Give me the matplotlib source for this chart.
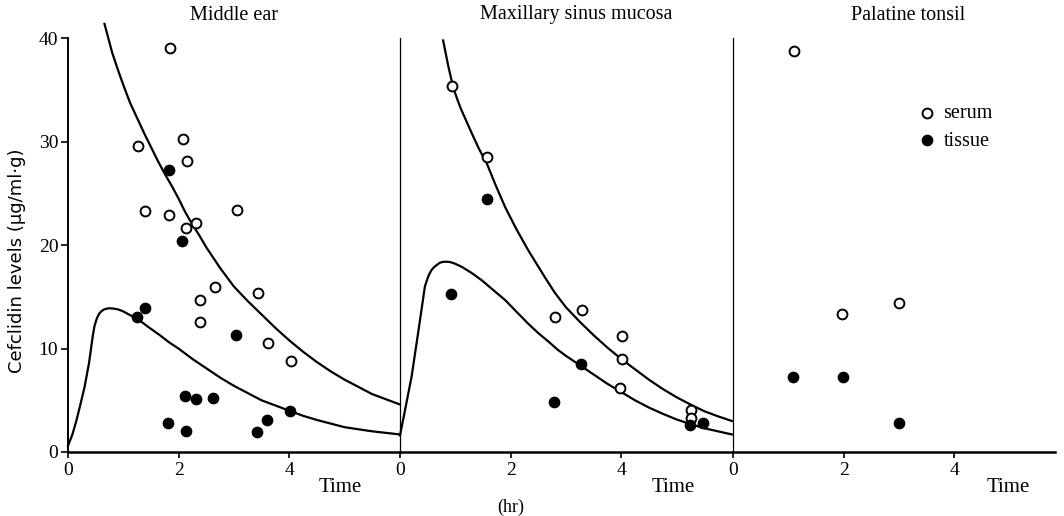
import matplotlib.pyplot as plt

plt.rcParams['font.family'] = ['Liberation Serif', 'DejaVu Serif']

# ---- measured points (time in hr, level in ug/ml.g) ----
me_serum_t = [1.84, 1.27, 2.08, 2.16, 1.40, 1.83, 2.13, 2.32, 3.05, 2.39, 2.65, 2.39, 3.44, 3.62, 4.03]
me_serum_v = [39.1, 29.6, 30.3, 28.1, 23.3, 22.9, 21.7, 22.1, 23.4, 14.7, 16.0, 12.6, 15.4, 10.5, 8.8]
me_tissue_t = [1.83, 2.07, 1.25, 1.40, 3.03, 2.12, 2.32, 2.63, 1.81, 2.14, 3.42, 3.60, 4.02]
me_tissue_v = [27.3, 20.4, 13.1, 13.9, 11.3, 5.4, 5.1, 5.2, 2.8, 2.0, 1.9, 3.1, 4.0]

ms_serum_t = [0.94, 1.58, 2.80, 3.30, 4.02, 4.02, 3.98, 5.26, 5.26]
ms_serum_v = [35.4, 28.5, 13.1, 13.7, 11.2, 9.0, 6.2, 4.1, 3.3]
ms_tissue_t = [1.57, 0.93, 3.27, 2.79, 5.24, 5.48]
ms_tissue_v = [24.5, 15.3, 8.5, 4.8, 2.6, 2.8]

pt_serum_t = [1.10, 1.98, 3.00]
pt_serum_v = [38.8, 13.3, 14.4]
pt_tissue_t = [1.08, 1.99, 3.00]
pt_tissue_v = [7.3, 7.3, 2.8]

# ---- fitted curves ----
me_serum_fit_t = [0.66, 0.73, 0.8, 0.9, 1.0, 1.12, 1.25, 1.38, 1.5, 1.62, 1.75, 1.88, 2.0, 2.12, 2.25, 2.38,
                  2.5, 2.75, 3.0, 3.25, 3.5, 3.75, 4.0, 4.25, 4.5, 4.75, 5.0, 5.25, 5.5, 5.75, 6.0]
me_serum_fit_v = [41.4, 40.0, 38.6, 37.0, 35.5, 33.8, 32.3, 30.8, 29.5, 28.2, 26.9, 25.7, 24.5, 23.2, 22.0, 20.9,
                  19.8, 17.8, 16.0, 14.6, 13.3, 12.0, 10.8, 9.7, 8.7, 7.8, 7.0, 6.3, 5.6, 5.1, 4.6]
me_tissue_fit_t = [0.0, 0.08, 0.15, 0.22, 0.3, 0.38, 0.45, 0.48, 0.52, 0.56, 0.6, 0.65, 0.7, 0.75, 0.82, 0.9,
                   1.0, 1.1, 1.25, 1.45, 1.66, 1.83, 2.0, 2.25, 2.5, 2.75, 3.0, 3.25, 3.5, 3.75, 4.0,
                   4.25, 4.5, 4.75, 5.0, 5.25, 5.5, 5.75, 6.0]
me_tissue_fit_v = [0.6, 1.7, 3.0, 4.5, 6.3, 8.6, 11.3, 12.2, 12.9, 13.35, 13.6, 13.78, 13.87, 13.9, 13.87, 13.8,
                   13.6, 13.3, 12.9, 12.1, 11.3, 10.6, 10.0, 9.0, 8.1, 7.2, 6.4, 5.7, 5.0, 4.5, 4.0,
                   3.5, 3.1, 2.75, 2.4, 2.2, 2.0, 1.85, 1.7]

ms_serum_fit_t = [0.78, 0.87, 0.96, 1.03, 1.1, 1.2, 1.3, 1.43, 1.57, 1.73, 1.9, 2.1, 2.32, 2.47, 2.62, 2.8,
                  3.0, 3.25, 3.5, 3.75, 4.0, 4.25, 4.5, 4.75, 5.0, 5.25, 5.5, 5.75, 6.0]
ms_serum_fit_v = [39.8, 37.4, 35.3, 34.2, 33.2, 32.0, 30.8, 29.3, 27.9, 25.8, 23.7, 21.6, 19.5, 18.2, 16.9, 15.4,
                  14.0, 12.6, 11.3, 10.1, 9.0, 8.0, 7.0, 6.1, 5.3, 4.6, 3.95, 3.45, 3.0]
ms_tissue_fit_t = [0.0, 0.1, 0.21, 0.33, 0.45, 0.48, 0.52, 0.57, 0.62, 0.67, 0.72, 0.77, 0.81, 0.86, 0.9,
                   0.95, 1.0, 1.12, 1.3, 1.48, 1.7, 1.9, 2.1, 2.32, 2.5, 2.68, 2.85, 3.0, 3.28, 3.5,
                   3.75, 4.0, 4.25, 4.5, 4.75, 5.0, 5.25, 5.5, 5.75, 6.0]
ms_tissue_fit_v = [1.6, 4.3, 7.3, 11.6, 16.0, 16.5, 17.1, 17.6, 17.9, 18.1, 18.3, 18.38, 18.4, 18.4, 18.37,
                   18.3, 18.2, 17.9, 17.3, 16.6, 15.6, 14.7, 13.6, 12.4, 11.5, 10.7, 9.9, 9.3, 8.3, 7.5,
                   6.6, 5.8, 5.0, 4.3, 3.7, 3.15, 2.7, 2.3, 2.0, 1.7]

titles = ['Middle ear', 'Maxillary sinus mucosa', 'Palatine tonsil']
xticks = [0, 2, 4]
yticks = [0, 10, 20, 30, 40]

W, H = 1064, 516
fig = plt.figure(figsize=(W / 100, H / 100), dpi=100)

y0 = 452      # pixel row of zero
ppu_y = 10.34  # px per ug
ppu_x = 55.3   # px per hr
ytop = 41.5
ax_bottom = (H - y0) / H
ax_height = ytop * ppu_y / H


def make_ax(left_px, xmax, spine_lw):
    ax = fig.add_axes([left_px / W, ax_bottom, xmax * ppu_x / W, ax_height])
    ax.set_xlim(0, xmax)
    ax.set_ylim(0, ytop)
    ax.patch.set_alpha(0)
    for s in ['top', 'right']:
        ax.spines[s].set_visible(False)
    ax.spines['left'].set_bounds(0, 40)
    ax.spines['left'].set_linewidth(spine_lw)
    ax.spines['bottom'].set_linewidth(1.8)
    ax.set_xticks(xticks)
    ax.tick_params(axis='x', direction='out', length=4, width=1.2, labelsize=14, pad=3)
    return ax


ax1 = make_ax(68, 6.0, 1.4)
ax2 = make_ax(400, 6.0, 0.9)
ax3 = make_ax(733, 5.82, 0.9)

ax1.set_yticks(yticks)
ax1.tick_params(axis='y', direction='out', length=5, width=1.2, labelsize=14, pad=2)
for ax in (ax2, ax3):
    ax.set_yticks([])

open_kw = dict(marker='o', s=50, facecolors='white', edgecolors='black', linewidths=1.4, zorder=3)
fill_kw = dict(marker='o', s=55, color='black', zorder=3)
line_kw = dict(color='black', lw=1.6, clip_on=False)

ax1.plot(me_serum_fit_t, me_serum_fit_v, **line_kw)
ax1.plot(me_tissue_fit_t, me_tissue_fit_v, **line_kw)
ax1.scatter(me_serum_t, me_serum_v, **open_kw)
ax1.scatter(me_tissue_t, me_tissue_v, **fill_kw)

ax2.plot(ms_serum_fit_t, ms_serum_fit_v, **line_kw)
ax2.plot(ms_tissue_fit_t, ms_tissue_fit_v, **line_kw)
ax2.scatter(ms_serum_t, ms_serum_v, **open_kw)
ax2.scatter(ms_tissue_t, ms_tissue_v, **fill_kw)

ax3.scatter(pt_serum_t, pt_serum_v, label='serum', **open_kw)
ax3.scatter(pt_tissue_t, pt_tissue_v, label='tissue', **fill_kw)
ax3.legend(loc='upper left', bbox_to_anchor=(3.15 / 5.82, 34.6 / ytop), frameon=False,
           fontsize=14.5, handletextpad=0.3, labelspacing=0.4, borderpad=0, handlelength=1.0)

# titles and axis texts
for title, xc in zip(titles, [234, 576, 908]):
    fig.text(xc / W, 1 - 15 / H, title, ha='center', va='center', fontsize=14.5)
for xc in [340, 673, 1008]:
    fig.text(xc / W, 1 - 488 / H, 'Time', ha='center', va='center', fontsize=15)
fig.text(511 / W, 1 - 507 / H, '(hr)', ha='center', va='center', fontsize=13)
fig.text(17 / W, 1 - 261 / H, 'Cefclidin levels (μg/ml·g)', rotation=90,
         ha='center', va='center', fontsize=13, family=['DejaVu Sans'])

fig.savefig('out.png', dpi=100)
